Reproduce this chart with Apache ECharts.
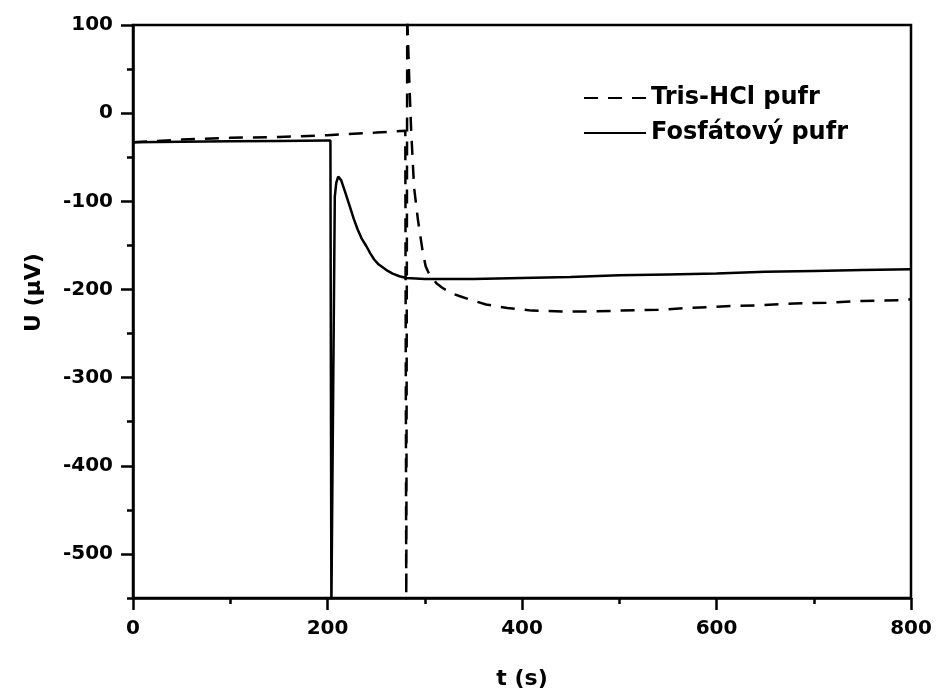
<!DOCTYPE html>
<html>
<head>
<meta charset="utf-8">
<script src="https://cdn.jsdelivr.net/npm/echarts@6/dist/echarts.min.js"></script>
<style>
  html, body { margin: 0; padding: 0; background: #fff; }
  #chart { width: 941px; height: 695px; }
</style>
</head>
<body>
<div id="chart"></div>
<script>
// Time (s) and potential (µV) for the two buffer solutions
const tTris = [0, 50, 100, 150, 200, 250, 280, 281, 282, 284, 286, 289, 293, 298, 301, 304, 308, 312, 318, 324, 329, 337, 345, 354, 363, 385, 410, 441, 470, 501, 540, 572, 610, 643, 680, 713, 750, 791, 800];
const uTris = [-33, -30, -28, -27, -25, -22, -20, -560, 110, 40, -19, -84, -121, -158, -174, -181, -187, -193, -198, -202, -205, -208, -211, -214, -217, -221, -224, -225, -225, -224, -223, -221, -219, -218, -216, -215, -213, -212, -211];

const tFos = [0, 50, 100, 150, 200, 203, 204, 205, 207.5, 209, 211, 214, 218, 223, 227, 231, 235, 240, 244, 248, 252, 257, 262, 267, 274, 281, 300, 350, 400, 450, 500, 550, 600, 650, 700, 750, 800];
const uFos = [-33, -32.5, -32, -31.5, -31, -31, -560, -560, -95, -79, -72, -76, -89, -106, -120, -132, -142, -151, -159, -166, -171, -175, -179, -182, -185, -187, -188, -188, -187, -186, -184, -183, -182, -180, -179, -178, -177];

const seriesNames = ['Tris-HCl pufr', 'Fosfátový pufr'];
const xLabel = 't (s)';
const yLabel = 'U (\u00b5V)';

const yMajor = [100, 0, -100, -200, -300, -400, -500];
const yMinor = [50, -50, -150, -250, -350, -450, -550];

const pairs = (xs, ys) => xs.map((x, i) => [x, ys[i]]);

const FONT = 'DejaVu Sans';
const chart = echarts.init(document.getElementById('chart'), null, { renderer: 'canvas' });

chart.setOption({
  backgroundColor: '#ffffff',
  animation: false,
  grid: {
    left: 133, right: 30, top: 25, bottom: 96,
    show: true, borderColor: '#000', borderWidth: 2.5, backgroundColor: 'transparent'
  },
  legend: {
    orient: 'vertical',
    left: 578, top: 81,
    itemWidth: 62, itemHeight: 14, itemGap: 11,
    data: seriesNames,
    itemStyle: { opacity: 0 },
    textStyle: { fontFamily: FONT, fontWeight: 'bold', fontSize: 24, color: '#000' }
  },
  xAxis: {
    type: 'value', min: 0, max: 800, interval: 200,
    name: xLabel, nameLocation: 'middle', nameGap: 70,
    nameTextStyle: { fontFamily: FONT, fontWeight: 'bold', fontSize: 22, color: '#000' },
    axisLine: { show: true, onZero: false, lineStyle: { color: '#000', width: 2.5 } },
    axisTick: { show: true, inside: false, length: 12, lineStyle: { color: '#000', width: 2.5 } },
    minorTick: { show: true, splitNumber: 2, length: 6, lineStyle: { color: '#000', width: 2.5 } },
    axisLabel: { margin: 21, fontFamily: FONT, fontWeight: 'bold', fontSize: 20, color: '#000' },
    splitLine: { show: false }
  },
  yAxis: [
    {
      type: 'value', min: -550, max: 100,
      name: yLabel, nameLocation: 'middle', nameGap: 88, nameRotate: 90,
      nameTextStyle: { fontFamily: FONT, fontWeight: 'bold', fontSize: 22, color: '#000', padding: [0, 0, 0, 38] },
      axisLine: { show: true, onZero: false, lineStyle: { color: '#000', width: 2.5 } },
      axisTick: { show: true, inside: false, length: 12, customValues: yMajor, lineStyle: { color: '#000', width: 2.5 } },
      axisLabel: { margin: 20, customValues: yMajor, fontFamily: FONT, fontWeight: 'bold', fontSize: 20, color: '#000' },
      splitLine: { show: false }
    },
    {
      type: 'value', min: -550, max: 100, position: 'left', offset: 0,
      axisLine: { show: false, onZero: false },
      axisTick: { show: true, inside: false, length: 6, customValues: yMinor, lineStyle: { color: '#000', width: 2.5 } },
      axisLabel: { show: false },
      splitLine: { show: false }
    }
  ],
  series: [
    {
      name: seriesNames[0], type: 'line', yAxisIndex: 0,
      data: pairs(tTris, uTris), symbol: 'none', smooth: false, clip: true,
      lineStyle: { color: '#000', width: 2.5, type: [14, 10] },
      itemStyle: { color: '#000' }
    },
    {
      name: seriesNames[1], type: 'line', yAxisIndex: 0,
      data: pairs(tFos, uFos), symbol: 'none', smooth: false, clip: true,
      lineStyle: { color: '#000', width: 2.5, type: 'solid' },
      itemStyle: { color: '#000' }
    }
  ]
});
</script>
</body>
</html>
